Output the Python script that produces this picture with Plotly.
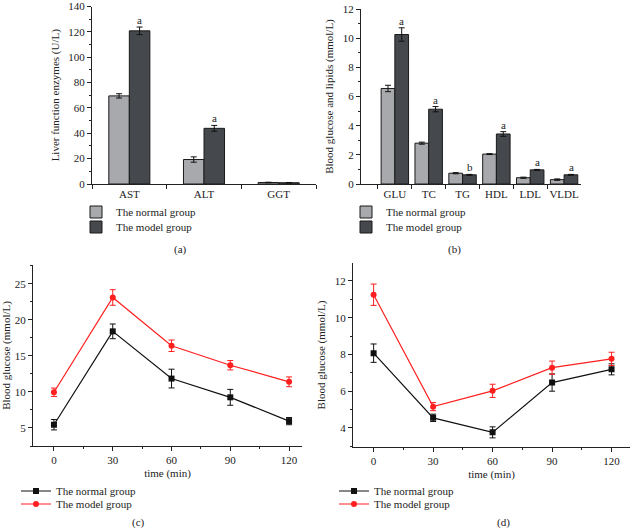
import plotly.graph_objects as go

W, H = 632, 531
FONT = "Liberation Serif"

# (a) liver function enzymes
enzymes = ["AST", "ALT", "GGT"]
enz_normal = [69.5, 19.3, 1.2]
enz_normal_err = [1.7, 2.1, 0.2]
enz_model = [120.8, 43.9, 1.0]
enz_model_err = [3.0, 2.3, 0.2]
enz_marks = ["a", "a", ""]

# (b) blood glucose and lipids
lipids = ["GLU", "TC", "TG", "HDL", "LDL", "VLDL"]
lip_normal = [6.55, 2.8, 0.74, 2.05, 0.43, 0.30]
lip_normal_err = [0.22, 0.07, 0.04, 0.03, 0.04, 0.05]
lip_model = [10.25, 5.13, 0.63, 3.43, 0.97, 0.63]
lip_model_err = [0.46, 0.18, 0.03, 0.16, 0.03, 0.03]
lip_marks = ["a", "a", "b", "a", "a", "a"]

# (c) and (d) time courses
times = [0, 30, 60, 90, 120]
c_normal = [5.45, 18.4, 11.85, 9.25, 5.95]
c_normal_err = [0.72, 1.02, 1.3, 1.1, 0.5]
c_model = [9.95, 23.1, 16.4, 13.7, 11.4]
c_model_err = [0.58, 1.08, 0.8, 0.65, 0.68]

d_normal = [8.07, 4.55, 3.76, 6.47, 7.19]
d_normal_err = [0.5, 0.2, 0.3, 0.47, 0.3]
d_model = [11.25, 5.16, 6.02, 7.28, 7.76]
d_model_err = [0.58, 0.22, 0.36, 0.36, 0.36]

GRAY = "#a7a9ac"
DARK = "#45484c"
RED = "#ff1f1f"
BLACK = "#111111"


def px_x(v):
    return v / W


def px_y(v):
    return 1 - v / H


fig = go.Figure()

# bar panels: width/offset in category units
panels = [
    ("x", "y", enzymes, enz_normal, enz_normal_err, enz_model, enz_model_err, 0.275, ("legend", "legend2")),
    ("x2", "y2", lipids, lip_normal, lip_normal_err, lip_model, lip_model_err, 0.405, ("legend3", "legend4")),
]
for xa, ya, cats, nv, ne, mv, me, bw, lg in panels:
    for vals, errs, col, name, off, leg in [
        (nv, ne, GRAY, "The normal group", -bw, lg[0]),
        (mv, me, DARK, "The model group", 0, lg[1]),
    ]:
        fig.add_trace(go.Bar(
            x=cats, y=vals, width=bw, offset=off,
            marker=dict(color=col, line=dict(color="#1a1a1a", width=1)),
            error_y=dict(type="data", array=errs, color="#111", thickness=1, width=3),
            name=name, xaxis=xa, yaxis=ya, legend=leg, showlegend=True,
        ))

lines = [
    ("x3", "y3", c_normal, c_normal_err, c_model, c_model_err, ("legend5", "legend6")),
    ("x4", "y4", d_normal, d_normal_err, d_model, d_model_err, ("legend7", "legend8")),
]
for xa, ya, nv, ne, mv, me, lg in lines:
    fig.add_trace(go.Scatter(
        x=times, y=nv, mode="lines+markers", name="The normal group",
        line=dict(color=BLACK, width=1.2),
        marker=dict(symbol="square", size=6, color=BLACK),
        error_y=dict(type="data", array=ne, color=BLACK, thickness=1, width=3),
        xaxis=xa, yaxis=ya, legend=lg[0], showlegend=True,
    ))
    fig.add_trace(go.Scatter(
        x=times, y=mv, mode="lines+markers", name="The model group",
        line=dict(color=RED, width=1.2),
        marker=dict(symbol="circle", size=6, color=RED),
        error_y=dict(type="data", array=me, color=RED, thickness=1, width=3),
        xaxis=xa, yaxis=ya, legend=lg[1], showlegend=True,
    ))

# significance letters above the model bars
annotations = []
for cats, vals, errs, marks, xa, ya, shift in [
    (enzymes, enz_model, enz_model_err, enz_marks, "x", "y", 10),
    (lipids, lip_model, lip_model_err, lip_marks, "x2", "y2", 7),
]:
    for c, v, e, m in zip(cats, vals, errs, marks):
        if m:
            annotations.append(dict(
                x=c, y=v + e, xref=xa, yref=ya, text=m, showarrow=False,
                xshift=shift, yanchor="bottom", yshift=-1,
                font=dict(family=FONT, size=11, color="#222"),
            ))

for txt, x, y in [("(a)", 180, 249), ("(b)", 454, 249), ("(c)", 138, 522), ("(d)", 503, 522)]:
    annotations.append(dict(
        x=px_x(x), y=px_y(y), xref="paper", yref="paper", text=txt, showarrow=False,
        xanchor="center", yanchor="middle", font=dict(family=FONT, size=11, color="#222"),
    ))

axis_common = dict(
    showline=True, linecolor="#222", linewidth=1, ticks="outside", ticklen=4,
    tickcolor="#222", showgrid=False, zeroline=False, automargin=False, tickangle=0,
    tickfont=dict(family=FONT, size=11, color="#222"),
    title_font=dict(family=FONT, size=11, color="#222"),
)
minor_common = dict(ticks="outside", ticklen=2, tickcolor="#222")

legend_common = dict(
    bgcolor="rgba(0,0,0,0)", font=dict(family=FONT, size=11, color="#222"),
    xanchor="left", yanchor="middle", borderwidth=0,
)
legend_pos = {
    "legend": (76, 212), "legend2": (76, 227),
    "legend3": (346, 212), "legend4": (346, 227),
    "legend5": (16, 491), "legend6": (16, 504),
    "legend7": (334, 491), "legend8": (334, 504),
}
legends = {k: dict(legend_common, x=px_x(px), y=px_y(py)) for k, (px, py) in legend_pos.items()}

fig.update_layout(
    template="none",
    width=W, height=H,
    margin=dict(l=0, r=0, t=0, b=0),
    plot_bgcolor="white", paper_bgcolor="white",
    barmode="overlay", showlegend=True,
    font=dict(family=FONT, size=11, color="#222"),
    xaxis=dict(axis_common, domain=[px_x(92), px_x(316)], range=[-0.5, 2.5],
               tickson="boundaries", anchor="y"),
    yaxis=dict(axis_common, domain=[px_y(184), px_y(6.5)], range=[0, 140], dtick=20,
               minor=dict(minor_common, dtick=10), anchor="x",
               title=dict(text="Liver function enzymes (U/L)", standoff=6)),
    xaxis2=dict(axis_common, domain=[px_x(361), px_x(581)], range=[-1, 5.5],
                tickson="boundaries", anchor="y2"),
    yaxis2=dict(axis_common, domain=[px_y(184), px_y(9)], range=[0, 12], dtick=2,
                minor=dict(minor_common, dtick=1), anchor="x2",
                title=dict(text="Blood glucose and lipids (mmol/L)", standoff=6)),
    xaxis3=dict(axis_common, domain=[px_x(33), px_x(302)], range=[-10.7, 126.6],
                tickvals=times, minor=dict(minor_common, dtick=15), anchor="y3",
                title=dict(text="time (min)", standoff=4)),
    yaxis3=dict(axis_common, domain=[px_y(446), px_y(265)], range=[2.5, 27.6],
                tickvals=[5, 10, 15, 20, 25], minor=dict(minor_common, dtick=2.5), anchor="x3",
                title=dict(text="Blood glucose (mmol/L)", standoff=6)),
    xaxis4=dict(axis_common, domain=[px_x(353), px_x(630)], range=[-10.4, 129.3],
                tickvals=times, minor=dict(minor_common, dtick=15), anchor="y4",
                title=dict(text="time (min)", standoff=4)),
    yaxis4=dict(axis_common, domain=[px_y(446.7), px_y(263.3)], range=[2.98, 12.96],
                tickvals=[4, 6, 8, 10, 12], minor=dict(minor_common, dtick=1), anchor="x4",
                title=dict(text="Blood glucose (mmol/L)", standoff=6)),
    annotations=annotations,
    **legends,
)

# drop the page's default 8px body margin so the figure sits at the window corner
fig.write_html("out.html", config={"displayModeBar": False},
               post_script="document.body.style.margin='0';")
